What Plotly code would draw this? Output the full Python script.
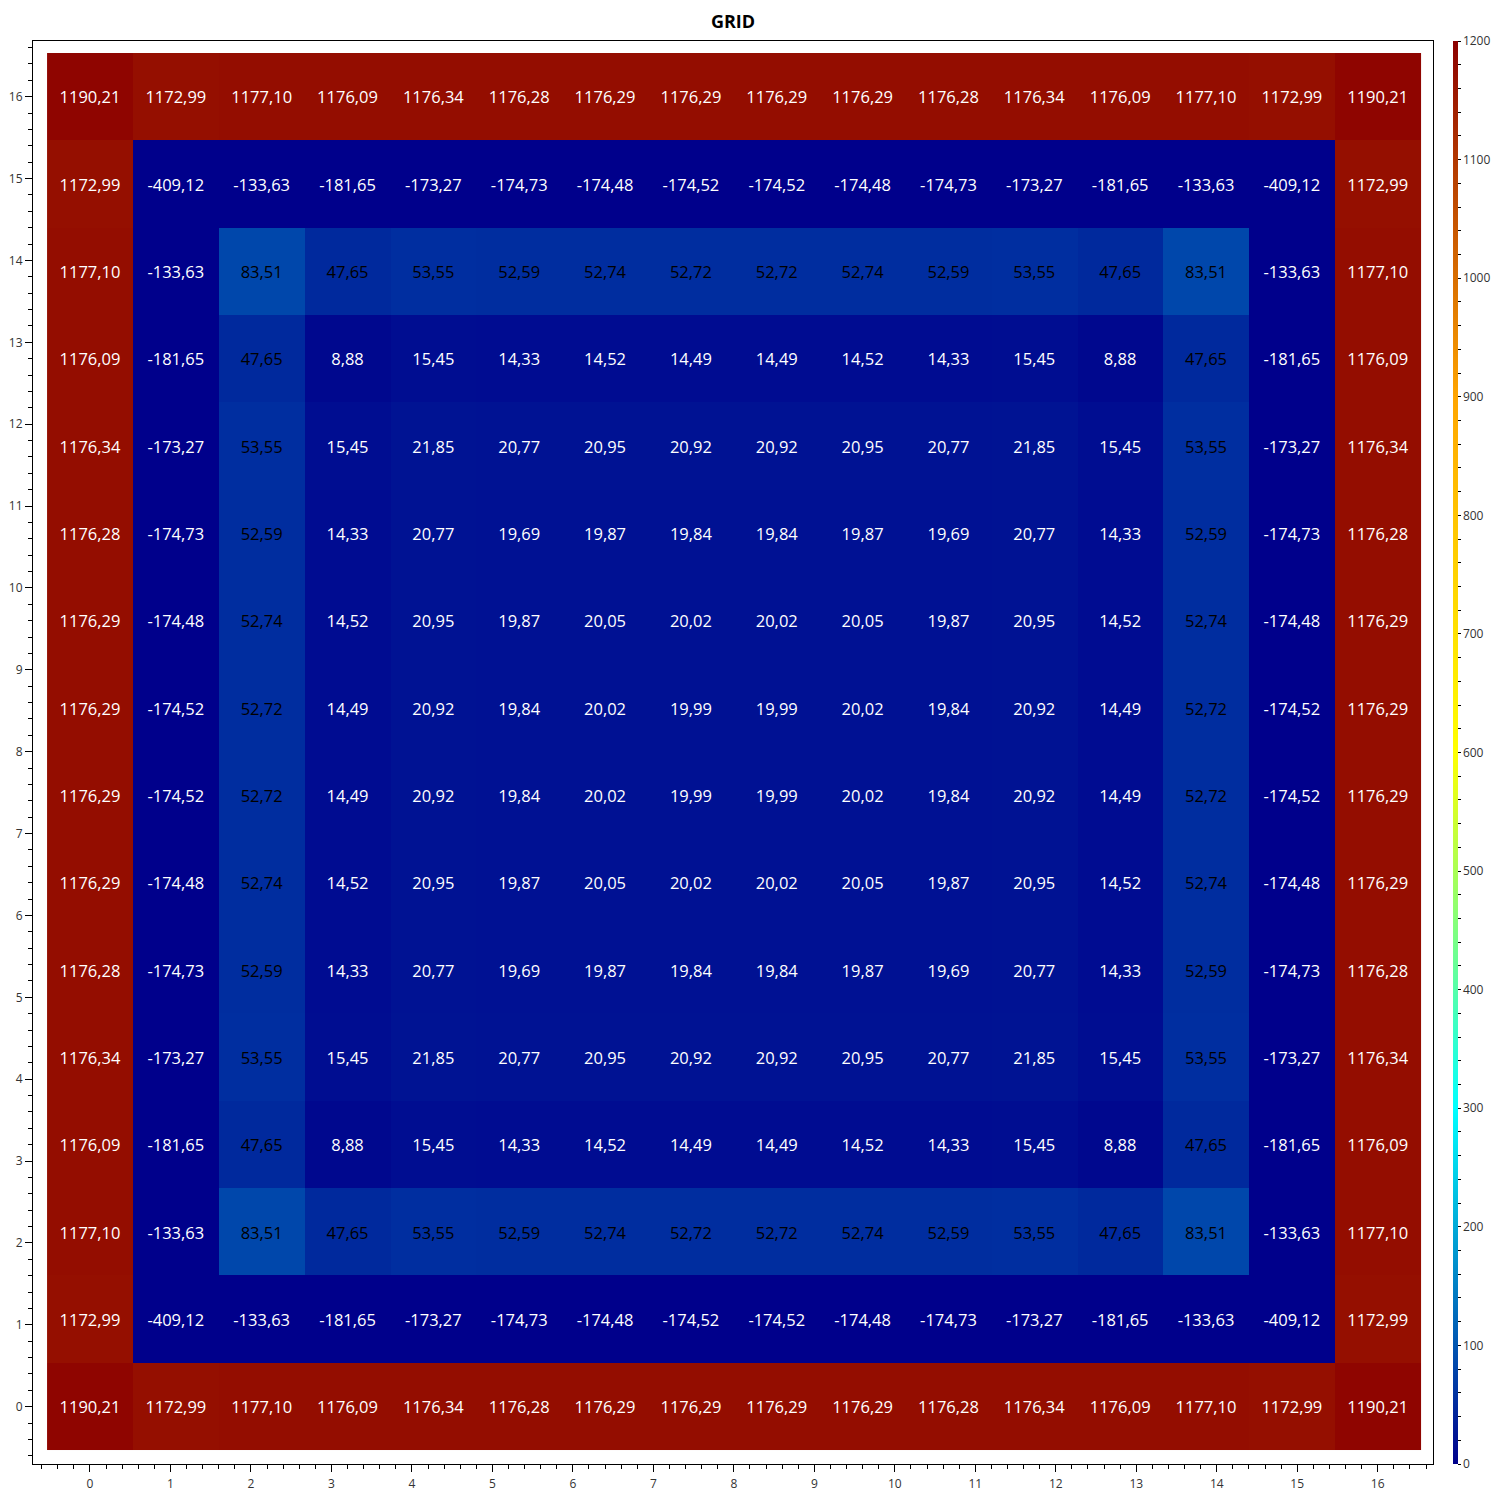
import plotly.graph_objects as go

# ---- data ----
n_cells = 16
axis_max = 16
coords = [i * axis_max / (n_cells - 1) for i in range(n_cells)]

# rows listed from bottom (y=0) to top (y=16)
row_00 = [1190.21, 1172.99, 1177.10, 1176.09, 1176.34, 1176.28, 1176.29, 1176.29, 1176.29, 1176.29, 1176.28, 1176.34, 1176.09, 1177.10, 1172.99, 1190.21]
row_01 = [1172.99, -409.12, -133.63, -181.65, -173.27, -174.73, -174.48, -174.52, -174.52, -174.48, -174.73, -173.27, -181.65, -133.63, -409.12, 1172.99]
row_02 = [1177.10, -133.63, 83.51, 47.65, 53.55, 52.59, 52.74, 52.72, 52.72, 52.74, 52.59, 53.55, 47.65, 83.51, -133.63, 1177.10]
row_03 = [1176.09, -181.65, 47.65, 8.88, 15.45, 14.33, 14.52, 14.49, 14.49, 14.52, 14.33, 15.45, 8.88, 47.65, -181.65, 1176.09]
row_04 = [1176.34, -173.27, 53.55, 15.45, 21.85, 20.77, 20.95, 20.92, 20.92, 20.95, 20.77, 21.85, 15.45, 53.55, -173.27, 1176.34]
row_05 = [1176.28, -174.73, 52.59, 14.33, 20.77, 19.69, 19.87, 19.84, 19.84, 19.87, 19.69, 20.77, 14.33, 52.59, -174.73, 1176.28]
row_06 = [1176.29, -174.48, 52.74, 14.52, 20.95, 19.87, 20.05, 20.02, 20.02, 20.05, 19.87, 20.95, 14.52, 52.74, -174.48, 1176.29]
row_07 = [1176.29, -174.52, 52.72, 14.49, 20.92, 19.84, 20.02, 19.99, 19.99, 20.02, 19.84, 20.92, 14.49, 52.72, -174.52, 1176.29]
row_08 = [1176.29, -174.52, 52.72, 14.49, 20.92, 19.84, 20.02, 19.99, 19.99, 20.02, 19.84, 20.92, 14.49, 52.72, -174.52, 1176.29]
row_09 = [1176.29, -174.48, 52.74, 14.52, 20.95, 19.87, 20.05, 20.02, 20.02, 20.05, 19.87, 20.95, 14.52, 52.74, -174.48, 1176.29]
row_10 = [1176.28, -174.73, 52.59, 14.33, 20.77, 19.69, 19.87, 19.84, 19.84, 19.87, 19.69, 20.77, 14.33, 52.59, -174.73, 1176.28]
row_11 = [1176.34, -173.27, 53.55, 15.45, 21.85, 20.77, 20.95, 20.92, 20.92, 20.95, 20.77, 21.85, 15.45, 53.55, -173.27, 1176.34]
row_12 = [1176.09, -181.65, 47.65, 8.88, 15.45, 14.33, 14.52, 14.49, 14.49, 14.52, 14.33, 15.45, 8.88, 47.65, -181.65, 1176.09]
row_13 = [1177.10, -133.63, 83.51, 47.65, 53.55, 52.59, 52.74, 52.72, 52.72, 52.74, 52.59, 53.55, 47.65, 83.51, -133.63, 1177.10]
row_14 = [1172.99, -409.12, -133.63, -181.65, -173.27, -174.73, -174.48, -174.52, -174.52, -174.48, -174.73, -173.27, -181.65, -133.63, -409.12, 1172.99]
row_15 = [1190.21, 1172.99, 1177.10, 1176.09, 1176.34, 1176.28, 1176.29, 1176.29, 1176.29, 1176.29, 1176.28, 1176.34, 1176.09, 1177.10, 1172.99, 1190.21]

z = [row_00, row_01, row_02, row_03, row_04, row_05, row_06, row_07,
     row_08, row_09, row_10, row_11, row_12, row_13, row_14, row_15]

zmin, zmax = 0, 1200
axis_ticks = list(range(0, 17))
cbar_ticks = list(range(0, 1201, 20))
cbar_labels = [str(v) if v % 100 == 0 else "" for v in cbar_ticks]

# ---- styling ----
FONT = "Open Sans"
TEXT_NUDGE = 0.03  # small downward nudge (axis units) for vertical centring of labels
colorscale = [
    [0.00, "rgb(0,0,139)"],
    [0.25, "rgb(0,255,255)"],
    [0.50, "rgb(255,255,0)"],
    [0.75, "rgb(255,165,0)"],
    [1.00, "rgb(139,0,0)"],
]

fig = go.Figure()
fig.add_trace(go.Heatmap(
    x=coords, y=coords, z=z,
    zmin=zmin, zmax=zmax, colorscale=colorscale,
    xgap=0, ygap=0,
    colorbar=dict(
        thickness=5, len=1, lenmode="fraction", y=0.5, yanchor="middle",
        x=1.0145, xanchor="left", xpad=0, ypad=0, outlinewidth=0,
        tickmode="array", tickvals=cbar_ticks, ticktext=cbar_labels,
        ticks="outside", ticklen=3, tickwidth=1, tickcolor="black",
        tickfont=dict(family=FONT, size=12, color="#333"),
    ),
    hoverinfo="skip",
))

xs, ys, texts, colors = [], [], [], []
for j, row in enumerate(z):
    for i, v in enumerate(row):
        xs.append(coords[i])
        ys.append(coords[j] - TEXT_NUDGE)
        texts.append(f"{v:.2f}".replace(".", ","))
        colors.append("black" if 30 < v < 600 else "white")

fig.add_trace(go.Scatter(
    x=xs, y=ys, text=texts, mode="text",
    textfont=dict(family=FONT, size=16.5, color=colors),
    textposition="middle center", hoverinfo="skip", showlegend=False,
))

axis_common = dict(
    tickmode="array", tickvals=axis_ticks, automargin=False,
    ticks="outside", ticklen=7, tickwidth=1, tickcolor="black",
    showline=True, linecolor="black", linewidth=1, mirror=True,
    showgrid=False, zeroline=False,
    tickfont=dict(family=FONT, size=12, color="#333"),
    minor=dict(dtick=0.2, tick0=0, ticks="outside", ticklen=4, tickwidth=1,
               tickcolor="black", showgrid=False),
)

W = H = 1492
fig.update_layout(
    width=W, height=H,
    margin=dict(l=25, r=67, t=33, b=36, autoexpand=False),
    paper_bgcolor="white", plot_bgcolor="white",
    title=dict(text="<b>GRID</b>", x=0.5, xref="paper", y=1 - 14 / H,
               yref="container", yanchor="middle", xanchor="center",
               font=dict(family=FONT, size=18, color="black")),
    xaxis=dict(range=[-0.708, 16.687], ticklabelstandoff=2, **axis_common),
    yaxis=dict(range=[-0.70, 16.68], **axis_common),
    showlegend=False,
)

fig.write_html("out.html")
